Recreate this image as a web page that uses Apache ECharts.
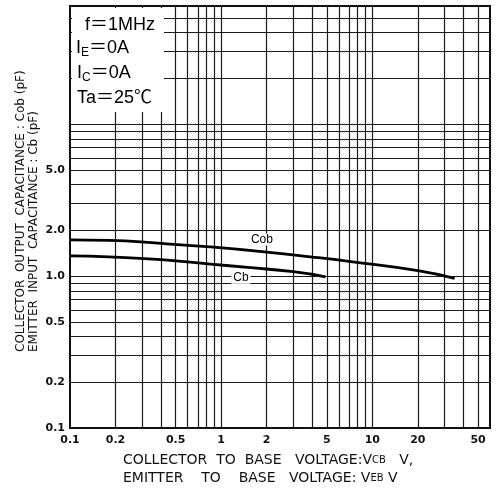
<!DOCTYPE html>
<html>
<head>
<meta charset="utf-8">
<script src="https://cdn.jsdelivr.net/npm/echarts@6/dist/echarts.min.js"></script>
<style>
html,body{margin:0;padding:0;background:#fff;}
#c{width:496px;height:488px;}
</style>
</head>
<body>
<div id="c"></div>
<script>
// Data
const cobVoltage = [0.1, 0.18, 0.4, 0.85, 2, 3.9, 7.2, 20, 35];
const cobCap     = [1.73, 1.72, 1.64, 1.555, 1.44, 1.34, 1.245, 1.085, 0.965];
const cbVoltage  = [0.1, 0.18, 0.4, 0.85, 1.5, 3.0, 4.9];
const cbCap      = [1.36, 1.34, 1.285, 1.2, 1.14, 1.07, 0.99];
const xTickLabels = [0.1, 0.2, 0.5, 1, 2, 5, 10, 20, 50];
const yTickLabels = [0.1, 0.2, 0.5, 1, 2, 5];
const xGrid = [0.2,0.3,0.4,0.5,0.6,0.7,0.8,0.9,1,2,3,4,5,6,7,8,9,10,20,30,40,50];
const yGrid = [0.2,0.3,0.4,0.5,0.6,0.7,0.8,0.9,1,2,3,4,5,6,7,8,9,10,20,30,40,50];

const chart = echarts.init(document.getElementById('c'));
const lblFont = {fontFamily: 'DejaVu Sans', fontWeight: 'bold', fontSize: 11, color: '#111'};

const gridLines = [];
xGrid.forEach(v => gridLines.push({xAxis: v}));
yGrid.forEach(v => gridLines.push({yAxis: v}));

const boxFont = '18px "Liberation Sans", "Noto Sans CJK SC"';
const subRich = {s: {fontSize: 12, fontFamily: 'Liberation Sans', verticalAlign: 'bottom', padding: [9, 0, 0, 0]}};

chart.setOption({
  animation: false,
  backgroundColor: '#fff',
  grid: {left: 70, right: 6, top: 6, bottom: 60, show: true, borderColor: '#111', borderWidth: 2, backgroundColor: 'transparent'},
  xAxis: {
    type: 'log', min: 0.1, max: 60, logBase: 10,
    splitLine: {show: false}, axisTick: {show: false},
    axisLine: {show: false},
    axisLabel: Object.assign({margin: 7, customValues: xTickLabels, formatter: v => String(+v)}, lblFont)
  },
  yAxis: {
    type: 'log', min: 0.1, max: 60, logBase: 10,
    splitLine: {show: false}, axisTick: {show: false},
    axisLine: {show: false},
    axisLabel: Object.assign({margin: 5, customValues: yTickLabels, formatter: v => (+v >= 1 ? (+v).toFixed(1) : String(+v))}, lblFont)
  },
  series: [
    {
      name: 'grid', type: 'line', data: [], silent: true,
      markLine: {
        silent: true, symbol: 'none', animation: false,
        label: {show: false},
        lineStyle: {color: '#1a1a1a', width: 1.2, type: 'solid'},
        data: gridLines
      }
    },
    {
      name: 'Cob', type: 'line', smooth: true, symbol: 'none', z: 5,
      lineStyle: {color: '#000', width: 2.8},
      data: cobVoltage.map((v, i) => [v, cobCap[i]]),
      markPoint: {
        symbol: 'circle', symbolSize: 0, silent: true,
        label: {show: true, formatter: 'Cob', fontFamily: 'Liberation Sans', fontSize: 12, color: '#000', backgroundColor: '#fff', padding: [0, 1]},
        data: [{coord: [1.86, 1.74]}]
      }
    },
    {
      name: 'Cb', type: 'line', smooth: true, symbol: 'none', z: 5,
      lineStyle: {color: '#000', width: 2.8},
      data: cbVoltage.map((v, i) => [v, cbCap[i]]),
      markPoint: {
        symbol: 'circle', symbolSize: 0, silent: true,
        label: {show: true, formatter: 'Cb', fontFamily: 'Liberation Sans', fontSize: 12, color: '#000', backgroundColor: '#fff', padding: [0, 2]},
        data: [{coord: [1.35, 0.975]}]
      }
    }
  ],
  graphic: [
    {type: 'rect', z: 100, shape: {x: 72, y: 8, width: 92, height: 104}, style: {fill: '#fff'}},
    {type: 'text', z: 101, x: 85, y: 25, style: {text: 'f＝1MHz', font: boxFont, fill: '#000', verticalAlign: 'middle'}},
    {type: 'text', z: 101, x: 76, y: 48, style: {text: 'I{s|E}＝0A', font: boxFont, fill: '#000', verticalAlign: 'middle', rich: subRich}},
    {type: 'text', z: 101, x: 77, y: 73, style: {text: 'I{s|C}＝0A', font: boxFont, fill: '#000', verticalAlign: 'middle', rich: subRich}},
    {type: 'text', z: 101, x: 77, y: 98, style: {text: 'Ta＝25℃', font: boxFont, fill: '#000', verticalAlign: 'middle'}},
    {type: 'text', z: 101, x: 21, y: 352, rotation: Math.PI / 2, style: {
      text: 'COLLECTOR  OUTPUT  CAPACITANCE : Cob (pF)', font: '12px "DejaVu Sans"', fill: '#111', align: 'left', verticalAlign: 'middle'}},
    {type: 'text', z: 101, x: 34, y: 352, rotation: Math.PI / 2, style: {
      text: 'EMITTER  INPUT  CAPACITANCE : Cb (pF)', font: '12px "DejaVu Sans"', fill: '#111', align: 'left', verticalAlign: 'middle'}},
    {type: 'text', z: 101, x: 123, y: 460, style: {
      text: 'COLLECTOR  TO  BASE   VOLTAGE:V{s|CB}   V,', font: '14px "DejaVu Sans"', fill: '#111', verticalAlign: 'middle',
      rich: {s: {fontSize: 10, fontFamily: 'DejaVu Sans'}}}},
    {type: 'text', z: 101, x: 123, y: 478, style: {
      text: 'EMITTER    TO    BASE   VOLTAGE: V{s|EB} V', font: '14px "DejaVu Sans"', fill: '#111', verticalAlign: 'middle',
      rich: {s: {fontSize: 10, fontFamily: 'DejaVu Sans'}}}}
  ]
});
</script>
</body>
</html>
